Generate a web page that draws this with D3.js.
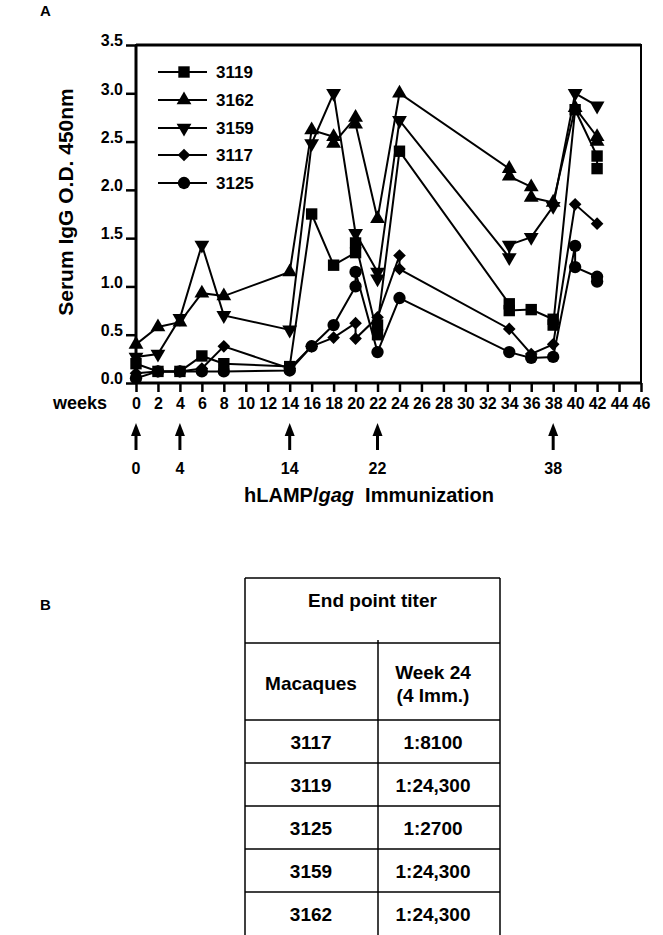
<!DOCTYPE html>
<html>
<head>
<meta charset="utf-8">
<script src="https://cdn.jsdelivr.net/npm/d3@7"></script>
<style>
  body { margin: 0; background: #fff; }
  svg { display: block; font-family: "Liberation Sans", Arial, sans-serif; }
</style>
</head>
<body>
<svg id="chart" width="663" height="935"></svg>
<script>
// [week, O.D.] pairs per macaque (some weeks have two readings)
const m3119 = [[0,0.2],[2,0.12],[4,0.12],[6,0.28],[8,0.2],[14,0.17],[16,1.75],[18,1.22],[20,1.35],[20,1.45],[22,0.5],[22,0.6],[24,2.4],[34,0.82],[34,0.75],[36,0.76],[38,0.66],[38,0.6],[40,2.83],[42,2.35],[42,2.22]]
const m3162 = [[0,0.4],[2,0.58],[4,0.63],[6,0.93],[8,0.9],[14,1.15],[16,2.62],[18,2.55],[18,2.48],[20,2.75],[20,2.68],[22,1.7],[24,3.0],[34,2.22],[34,2.14],[36,2.03],[36,1.92],[38,1.87],[40,2.85],[42,2.55],[42,2.5]]
const m3159 = [[0,0.27],[2,0.3],[4,0.67],[6,1.43],[8,0.7],[14,0.55],[16,2.48],[18,3.0],[20,1.55],[22,1.15],[22,1.08],[24,2.72],[34,1.3],[34,1.43],[36,1.51],[38,1.83],[40,3.0],[42,2.87]]
const m3117 = [[0,0.1],[2,0.12],[4,0.12],[6,0.15],[8,0.38],[14,0.15],[16,0.38],[18,0.47],[20,0.62],[20,0.46],[22,0.68],[24,1.32],[24,1.18],[34,0.56],[36,0.3],[38,0.4],[40,1.85],[42,1.65]]
const m3125 = [[0,0.05],[2,0.12],[4,0.12],[6,0.12],[8,0.12],[14,0.13],[16,0.38],[18,0.6],[20,1.0],[20,1.15],[22,0.32],[24,0.88],[34,0.32],[36,0.26],[38,0.27],[40,1.42],[40,1.2],[42,1.1],[42,1.05]]

const seriesNames = ["3119", "3162", "3159", "3117", "3125"]
const seriesData = [m3119, m3162, m3159, m3117, m3125]

const weekTicks = d3.range(0, 47, 2)
const odTicks = [0, 0.5, 1.0, 1.5, 2.0, 2.5, 3.0, 3.5]
const immunizationWeeks = [0, 4, 14, 22, 38]

// table B
const macaques = ["3117", "3119", "3125", "3159", "3162"]
const titers = ["1:8100", "1:24,300", "1:2700", "1:24,300", "1:24,300"]

const svg = d3.select("#chart")

const x = d3.scaleLinear().domain([0, 46]).range([136, 641])
const y = d3.scaleLinear().domain([0, 3.5]).range([383, 45])

// marker shapes, same order as seriesNames
const sq = d3.symbol().type(d3.symbolSquare).size(130)()
const tri = d3.symbol().type(d3.symbolTriangle).size(95)()
const dia = d3.symbol().type(d3.symbolSquare).size(80)()
const circ = d3.symbol().type(d3.symbolCircle).size(120)()
const markers = [
  { d: sq, rot: 0 },
  { d: tri, rot: 0 },
  { d: tri, rot: 180 },
  { d: dia, rot: 45 },
  { d: circ, rot: 0 }
]

svg.append("text").attr("x", 40).attr("y", 16)
  .attr("font-size", 15).attr("font-weight", "bold").text("A")
svg.append("text").attr("x", 40).attr("y", 610)
  .attr("font-size", 15).attr("font-weight", "bold").text("B")

// y axis
const yAxis = svg.append("g")
  .attr("transform", `translate(${x(0)},0)`)
  .call(d3.axisLeft(y).tickValues(odTicks).tickFormat(d3.format(".1f")).tickSize(10).tickSizeOuter(0))
yAxis.select(".domain").remove()
yAxis.selectAll(".tick line").attr("stroke-width", 2.5)
yAxis.selectAll(".tick text")
  .attr("dy", "0.05em")
  .attr("font-size", 16).attr("font-weight", "bold").attr("font-family", "Liberation Sans, Arial, sans-serif")

// x axis
const xAxis = svg.append("g")
  .attr("transform", `translate(0,${y(0)})`)
  .call(d3.axisBottom(x).tickValues(weekTicks).tickSize(9).tickPadding(6).tickSizeOuter(0))
xAxis.select(".domain").remove()
xAxis.selectAll(".tick line").attr("stroke-width", 2.5)
xAxis.selectAll(".tick text")
  .attr("font-size", 16).attr("font-weight", "bold").attr("font-family", "Liberation Sans, Arial, sans-serif")

// frame
svg.append("rect")
  .attr("x", x(0)).attr("y", y(3.5))
  .attr("width", x(46) - x(0)).attr("height", y(0) - y(3.5))
  .attr("fill", "none").attr("stroke", "#000").attr("stroke-width", 2)
svg.append("line")
  .attr("x1", x(0)).attr("x2", x(46)).attr("y1", y(0)).attr("y2", y(0))
  .attr("stroke", "#000").attr("stroke-width", 3)
svg.append("line")
  .attr("x1", x(0)).attr("x2", x(46)).attr("y1", y(3.5)).attr("y2", y(3.5))
  .attr("stroke", "#000").attr("stroke-width", 3)
svg.append("line")
  .attr("x1", x(0)).attr("x2", x(0)).attr("y1", y(0)).attr("y2", y(3.5))
  .attr("stroke", "#000").attr("stroke-width", 3)

svg.append("text").attr("x", 53).attr("y", 409)
  .attr("font-size", 18).attr("font-weight", "bold").text("weeks")

svg.append("text")
  .attr("transform", "translate(73,202) rotate(-90)")
  .attr("text-anchor", "middle")
  .attr("font-size", 21).attr("font-weight", "bold")
  .text("Serum IgG O.D. 450nm")

// series lines + markers
const line = d3.line().x(d => x(d[0])).y(d => y(d[1]))
seriesData.forEach((pts, i) => {
  svg.append("path")
    .datum(pts)
    .attr("fill", "none")
    .attr("stroke", "#000")
    .attr("stroke-width", 2)
    .attr("d", line)
  svg.append("g").selectAll("path")
    .data(pts)
    .join("path")
    .attr("d", markers[i].d)
    .attr("transform", d => `translate(${x(d[0])},${y(d[1])}) rotate(${markers[i].rot})`)
    .attr("fill", "#000")
})

// legend
const legendY = [72, 100, 128, 155, 183]
const legend = svg.append("g")
seriesNames.forEach((name, i) => {
  const g = legend.append("g").attr("transform", `translate(0,${legendY[i]})`)
  g.append("line").attr("x1", 158).attr("x2", 207).attr("stroke", "#000").attr("stroke-width", 2)
  g.append("path").attr("d", markers[i].d)
    .attr("transform", `translate(184,0) rotate(${markers[i].rot})`).attr("fill", "#000")
  g.append("text").attr("x", 216).attr("y", 6)
    .attr("font-size", 17).attr("font-weight", "bold").text(name)
})

// immunization arrows
immunizationWeeks.forEach(w => {
  const cx = x(w)
  svg.append("line")
    .attr("x1", cx).attr("x2", cx).attr("y1", 450).attr("y2", 432)
    .attr("stroke", "#000").attr("stroke-width", 3)
  svg.append("path")
    .attr("d", `M${cx},423L${cx - 5},436L${cx + 5},436Z`)
    .attr("fill", "#000")
  svg.append("text")
    .attr("x", cx).attr("y", 474)
    .attr("text-anchor", "middle")
    .attr("font-size", 16).attr("font-weight", "bold")
    .text(w)
})

const immText = svg.append("text")
  .attr("x", 369).attr("y", 502)
  .attr("text-anchor", "middle")
  .attr("font-size", 20).attr("font-weight", "bold")
  .attr("xml:space", "preserve")
immText.append("tspan").text("hLAMP/")
immText.append("tspan").attr("font-style", "italic").text("gag")
immText.append("tspan").text("  Immunization")

// table B
const tLeft = 245, tRight = 500, tDiv = 378
const rowY = d3.scaleBand().domain(macaques).range([720, 935])
const tbl = svg.append("g").attr("stroke", "#000").attr("stroke-width", 1.5)
tbl.append("line").attr("x1", tLeft).attr("x2", tLeft).attr("y1", 578).attr("y2", 935)
tbl.append("line").attr("x1", tRight).attr("x2", tRight).attr("y1", 578).attr("y2", 935)
tbl.append("line").attr("x1", tDiv).attr("x2", tDiv).attr("y1", 640).attr("y2", 935)
const hLines = [578, 643].concat(macaques.map(m => rowY(m)))
tbl.selectAll("line.h")
  .data(hLines)
  .join("line")
  .attr("class", "h")
  .attr("x1", tLeft).attr("x2", tRight)
  .attr("y1", d => d).attr("y2", d => d)

const tText = svg.append("g").attr("font-size", 19).attr("font-weight", "bold").attr("text-anchor", "middle")
tText.append("text").attr("x", (tLeft + tRight) / 2).attr("y", 607).text("End point titer")
tText.append("text").attr("x", 311).attr("y", 690).text("Macaques")
tText.append("text").attr("x", 433).attr("y", 679).text("Week 24")
tText.append("text").attr("x", 433).attr("y", 702).text("(4 Imm.)")
macaques.forEach((m, i) => {
  const cy = rowY(m) + rowY.bandwidth() / 2 + 7
  tText.append("text").attr("x", 311).attr("y", cy).text(m)
  tText.append("text").attr("x", 433).attr("y", cy).text(titers[i])
})
</script>
</body>
</html>
